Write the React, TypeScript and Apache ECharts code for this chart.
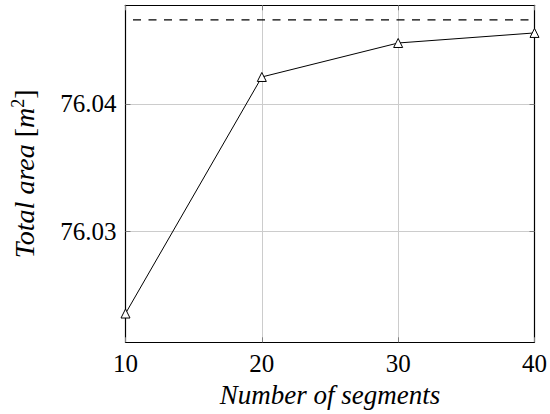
import React, { useEffect, useRef } from "react";
import * as echarts from "echarts";

const segments = [10, 20, 30, 40];
const totalArea = [76.02354, 76.04212, 76.04479, 76.04558];
const referenceArea = 76.0466;
const yTicks = [76.03, 76.04];
const xTicks = [10, 20, 30, 40];
const yRange = [76.02128, 76.04775];

const FONT = "'Liberation Serif', 'Times New Roman', serif";

export default function App() {
  const ref = useRef<HTMLDivElement>(null);
  useEffect(() => {
    if (!ref.current) return;
    const chart = echarts.init(ref.current, null, { renderer: "svg" });
    const tickStyle = { show: true, inside: true, length: 5, lineStyle: { color: "#808080", width: 1 } };
    const option: any = {
      animation: false,
      backgroundColor: "#ffffff",
      grid: { left: 125.5, right: 14.3, top: 5.3, bottom: 71.7, containLabel: false },
      xAxis: [
        {
          type: "value",
          min: 10,
          max: 40,
          interval: 10,
          position: "bottom",
          axisLine: { show: true, lineStyle: { color: "#000", width: 1.2 } },
          axisTick: { ...tickStyle, customValues: xTicks },
          axisLabel: {
            customValues: xTicks,
            color: "#000",
            fontFamily: FONT,
            fontSize: 25,
            margin: 9,
          },
          splitLine: { show: true, lineStyle: { color: "#cccccc", width: 1 } },
          name: "Number of segments",
          nameLocation: "middle",
          nameGap: 34,
          nameTextStyle: { fontFamily: FONT, fontStyle: "italic", fontSize: 27, color: "#000" },
        },
        {
          type: "value",
          min: 10,
          max: 40,
          interval: 10,
          position: "top",
          axisLine: { show: true, lineStyle: { color: "#000", width: 1.2 } },
          axisTick: { ...tickStyle },
          axisLabel: { show: false },
          splitLine: { show: false },
        },
      ],
      yAxis: [
        {
          type: "value",
          min: yRange[0],
          max: yRange[1],
          position: "left",
          axisLine: { show: true, lineStyle: { color: "#000", width: 1.2 } },
          axisTick: { ...tickStyle, customValues: yTicks },
          axisLabel: {
            customValues: yTicks,
            formatter: (v: number) => v.toFixed(2),
            color: "#000",
            fontFamily: FONT,
            fontSize: 25,
            margin: 9,
          },
          splitLine: { show: true, lineStyle: { color: "#cccccc", width: 1 } },
          name: "{it|Total area} {n|[}{it|m}{sup|2}{n|]}",
          nameLocation: "middle",
          nameRotate: 90,
          nameGap: 86,
          nameTextStyle: {
            fontFamily: FONT,
            fontSize: 28,
            color: "#000",
            rich: {
              it: { fontFamily: FONT, fontStyle: "italic", fontSize: 28, color: "#000" },
              n: { fontFamily: FONT, fontSize: 28, color: "#000" },
              sup: { fontFamily: FONT, fontSize: 18, color: "#000", padding: [0, 0, 13, 0] },
            },
          },
        },
        {
          type: "value",
          min: yRange[0],
          max: yRange[1],
          position: "right",
          axisLine: { show: true, lineStyle: { color: "#000", width: 1.2 } },
          axisTick: { ...tickStyle, customValues: yTicks },
          axisLabel: { show: false, customValues: yTicks },
          splitLine: { show: false },
        },
      ],
      series: [
        {
          type: "line",
          xAxisIndex: 0,
          yAxisIndex: 0,
          data: segments.map((s, i) => [s, totalArea[i]]),
          symbol: "triangle",
          symbolSize: 9,
          showAllSymbol: true,
          lineStyle: { color: "#000", width: 1 },
          itemStyle: { color: "#fff", borderColor: "#000", borderWidth: 1 },
          z: 5,
        },
        {
          type: "line",
          xAxisIndex: 0,
          yAxisIndex: 0,
          data: [
            [segments[0], referenceArea],
            [segments[segments.length - 1], referenceArea],
          ],
          symbol: "none",
          lineStyle: { color: "#000", width: 1.2, type: [8, 7.5], dashOffset: 7.5 },
          z: 4,
        },
      ],
    };
    chart.setOption(option);
    return () => chart.dispose();
  }, []);
  return (
    <div
      ref={ref}
      style={{ position: "fixed", left: 0, top: 0, width: 550, height: 414, background: "#fff" }}
    />
  );
}
